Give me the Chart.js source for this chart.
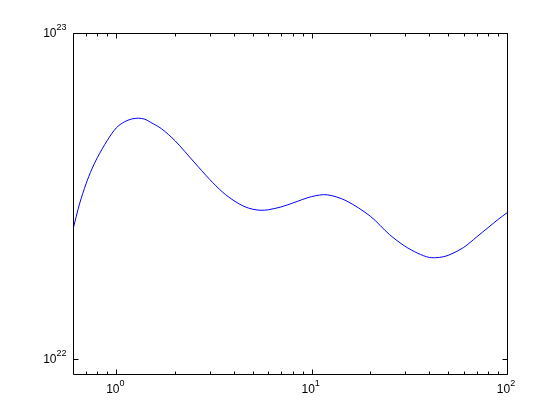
<!DOCTYPE html>
<html>
<head>
<meta charset="utf-8">
<script src="https://cdn.jsdelivr.net/npm/chart.js@4"></script>
<style>
    html, body { margin: 0; padding: 0; background: #fff; }
    #wrap { width: 560px; height: 420px; }
</style>
</head>
<body>
<div id="wrap"><canvas id="chart" width="560" height="420"></canvas></div>
<script>
// Datos (escala log-log)
const xValues = [0.6, 0.65, 0.7, 0.75, 0.8, 0.9, 1, 1.1, 1.2, 1.3, 1.4, 1.5, 1.7, 2, 2.5, 3, 3.5, 4, 4.5, 5, 5.5, 6,
    7, 8, 10, 12, 15, 20, 25, 30, 35, 40, 45, 50, 60, 70, 80, 90, 100];
const yValues = [2.50e22, 3.01e22, 3.45e22, 3.83e22, 4.15e22, 4.69e22, 5.12e22, 5.34e22, 5.45e22, 5.48e22, 5.44e22,
    5.32e22, 5.09e22, 4.67e22, 4.02e22, 3.56e22, 3.25e22, 3.06e22, 2.94e22, 2.88e22, 2.86e22, 2.87e22,
    2.93e22, 3.01e22, 3.15e22, 3.19e22, 3.06e22, 2.74e22, 2.41e22, 2.22e22, 2.11e22, 2.05e22, 2.05e22,
    2.08e22, 2.20e22, 2.37e22, 2.53e22, 2.68e22, 2.81e22];

// Marcas de los ejes
const xMajorTicks = [1, 10, 100];
const xMajorExps = ['0', '1', '2'];
const xMinorTicks = [0.7, 0.8, 0.9, 2, 3, 4, 5, 6, 7, 8, 9, 20, 30, 40, 50, 60, 70, 80, 90];
const yMajorTicks = [1e22, 1e23];
const yMajorExps = ['22', '23'];

const X_MIN = 0.6, X_MAX = 100;
const Y_MIN = 9e21, Y_MAX = 1e23;

// Ejes estilo MATLAB: caja, marcas hacia dentro y etiquetas 10^n
const matlabAxes = {
    id: 'matlabAxes',
    afterDraw(chart) {
        const ctx = chart.ctx;
        const area = chart.chartArea;
        const xs = chart.scales.x;
        const ys = chart.scales.y;
        const L = Math.round(area.left) + 0.5, R = Math.round(area.right) + 0.5;
        const T = Math.round(area.top) + 0.5, B = Math.round(area.bottom) + 0.5;

        ctx.save();
        ctx.strokeStyle = '#000';
        ctx.lineWidth = 1;
        ctx.beginPath();
        ctx.rect(L, T, R - L, B - T);

        const major = 5, minor = 3;
        xMajorTicks.forEach(v => {
            const px = Math.round(xs.getPixelForValue(v)) + 0.5;
            ctx.moveTo(px, B); ctx.lineTo(px, B - major);
            ctx.moveTo(px, T); ctx.lineTo(px, T + major);
        });
        xMinorTicks.forEach(v => {
            const px = Math.round(xs.getPixelForValue(v)) + 0.5;
            ctx.moveTo(px, B); ctx.lineTo(px, B - minor);
            ctx.moveTo(px, T); ctx.lineTo(px, T + minor);
        });
        yMajorTicks.forEach(v => {
            const py = Math.round(ys.getPixelForValue(v)) + 0.5;
            ctx.moveTo(L, py); ctx.lineTo(L + major, py);
            ctx.moveTo(R, py); ctx.lineTo(R - major, py);
        });
        ctx.stroke();

        const baseFont = '12px "Liberation Sans", Arial, sans-serif';
        const expFont = '9px "Liberation Sans", Arial, sans-serif';
        ctx.fillStyle = '#000';
        ctx.textBaseline = 'alphabetic';
        ctx.textAlign = 'left';

        // Etiquetas del eje x
        xMajorTicks.forEach((v, i) => {
            const px = xs.getPixelForValue(v);
            ctx.font = baseFont;
            const wBase = ctx.measureText('10').width;
            ctx.font = expFont;
            const wExp = ctx.measureText(xMajorExps[i]).width;
            const start = px - (wBase + wExp) / 2 - 1;
            ctx.font = baseFont;
            ctx.fillText('10', start, B + 18);
            ctx.font = expFont;
            ctx.fillText(xMajorExps[i], start + wBase, B + 11);
        });

        // Etiquetas del eje y
        yMajorTicks.forEach((v, i) => {
            const py = ys.getPixelForValue(v);
            ctx.font = baseFont;
            const wBase = ctx.measureText('10').width;
            ctx.font = expFont;
            const wExp = ctx.measureText(yMajorExps[i]).width;
            const start = L - 7 - wExp - wBase;
            ctx.font = baseFont;
            ctx.fillText('10', start, py + 4);
            ctx.font = expFont;
            ctx.fillText(yMajorExps[i], start + wBase, py - 3);
        });
        ctx.restore();
    }
};

document.addEventListener('DOMContentLoaded', () => {
    const points = xValues.map((x, i) => ({ x: x, y: yValues[i] }));

    new Chart(document.getElementById('chart'), {
        type: 'line',
        data: {
            datasets: [{
                data: points,
                borderColor: '#0000ff',
                borderWidth: 1,
                pointRadius: 0,
                fill: false,
                tension: 0.3
            }]
        },
        options: {
            responsive: false,
            animation: false,
            layout: { padding: { left: 73, right: 53, top: 33, bottom: 46 } },
            plugins: {
                legend: { display: false },
                tooltip: { enabled: false }
            },
            scales: {
                x: {
                    type: 'logarithmic',
                    display: false,
                    min: X_MIN,
                    max: X_MAX
                },
                y: {
                    type: 'logarithmic',
                    display: false,
                    min: Y_MIN,
                    max: Y_MAX
                }
            }
        },
        plugins: [matlabAxes]
    });
});
</script>
</body>
</html>
